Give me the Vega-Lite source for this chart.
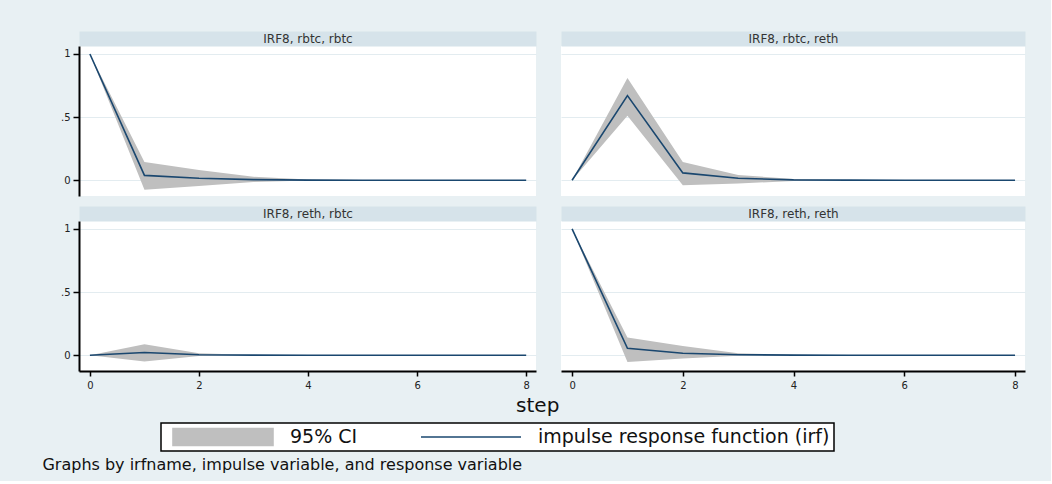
{
  "$schema": "https://vega.github.io/schema/vega-lite/v6.json",
  "background": "#e8f0f3",
  "padding": {"left": 42, "top": 32, "right": 26, "bottom": 8},
  "datasets": {
    "irf": [
      {"p": "rbtc,rbtc", "step": 0, "irf": 1, "lo": 1, "hi": 1},
      {"p": "rbtc,rbtc", "step": 1, "irf": 0.038, "lo": -0.075, "hi": 0.145},
      {"p": "rbtc,rbtc", "step": 2, "irf": 0.015, "lo": -0.045, "hi": 0.08},
      {"p": "rbtc,rbtc", "step": 3, "irf": 0.005, "lo": -0.015, "hi": 0.027},
      {"p": "rbtc,rbtc", "step": 4, "irf": 0.001, "lo": -0.003, "hi": 0.006},
      {"p": "rbtc,rbtc", "step": 5, "irf": 0, "lo": -0.001, "hi": 0.001},
      {"p": "rbtc,rbtc", "step": 6, "irf": 0, "lo": 0, "hi": 0},
      {"p": "rbtc,rbtc", "step": 7, "irf": 0, "lo": 0, "hi": 0},
      {"p": "rbtc,rbtc", "step": 8, "irf": 0, "lo": 0, "hi": 0},
      {"p": "rbtc,reth", "step": 0, "irf": 0, "lo": 0, "hi": 0},
      {"p": "rbtc,reth", "step": 1, "irf": 0.67, "lo": 0.51, "hi": 0.81},
      {"p": "rbtc,reth", "step": 2, "irf": 0.058, "lo": -0.04, "hi": 0.144},
      {"p": "rbtc,reth", "step": 3, "irf": 0.015, "lo": -0.026, "hi": 0.042},
      {"p": "rbtc,reth", "step": 4, "irf": 0.003, "lo": -0.006, "hi": 0.01},
      {"p": "rbtc,reth", "step": 5, "irf": 0.001, "lo": -0.001, "hi": 0.002},
      {"p": "rbtc,reth", "step": 6, "irf": 0, "lo": 0, "hi": 0},
      {"p": "rbtc,reth", "step": 7, "irf": 0, "lo": 0, "hi": 0},
      {"p": "rbtc,reth", "step": 8, "irf": 0, "lo": 0, "hi": 0},
      {"p": "reth,rbtc", "step": 0, "irf": 0, "lo": 0, "hi": 0},
      {"p": "reth,rbtc", "step": 1, "irf": 0.022, "lo": -0.05, "hi": 0.087},
      {"p": "reth,rbtc", "step": 2, "irf": 0.004, "lo": -0.006, "hi": 0.016},
      {"p": "reth,rbtc", "step": 3, "irf": 0.001, "lo": -0.001, "hi": 0.002},
      {"p": "reth,rbtc", "step": 4, "irf": 0, "lo": 0, "hi": 0},
      {"p": "reth,rbtc", "step": 5, "irf": 0, "lo": 0, "hi": 0},
      {"p": "reth,rbtc", "step": 6, "irf": 0, "lo": 0, "hi": 0},
      {"p": "reth,rbtc", "step": 7, "irf": 0, "lo": 0, "hi": 0},
      {"p": "reth,rbtc", "step": 8, "irf": 0, "lo": 0, "hi": 0},
      {"p": "reth,reth", "step": 0, "irf": 1, "lo": 1, "hi": 1},
      {"p": "reth,reth", "step": 1, "irf": 0.055, "lo": -0.053, "hi": 0.14},
      {"p": "reth,reth", "step": 2, "irf": 0.016, "lo": -0.026, "hi": 0.073},
      {"p": "reth,reth", "step": 3, "irf": 0.004, "lo": -0.005, "hi": 0.015},
      {"p": "reth,reth", "step": 4, "irf": 0.001, "lo": -0.001, "hi": 0.003},
      {"p": "reth,reth", "step": 5, "irf": 0, "lo": 0, "hi": 0},
      {"p": "reth,reth", "step": 6, "irf": 0, "lo": 0, "hi": 0},
      {"p": "reth,reth", "step": 7, "irf": 0, "lo": 0, "hi": 0},
      {"p": "reth,reth", "step": 8, "irf": 0, "lo": 0, "hi": 0}
    ]
  },
  "vconcat": [
    {
      "columns": 2,
      "spacing": {"row": 11, "column": 25},
      "title": {"text": "step", "orient": "bottom", "anchor": "middle", "fontSize": 20, "font": "DejaVu Sans", "fontWeight": "normal", "color": "#111", "offset": 6, "dx": -5},
      "resolve": {"scale": {"color": "shared"}, "legend": {"color": "shared"}},
      "concat": [
        {
          "width": 457, "height": 150,
          "data": {"name": "irf"},
          "transform": [{"filter": "datum.p === 'rbtc,rbtc'"}],
          "layer": [
            {
              "mark": {"type": "area", "opacity": 1},
              "encoding": {
                "x": {"field": "step", "type": "quantitative", "scale": {"domain": [-0.2, 8.18], "nice": false, "zero": false},
                  "axis": {"orient": "top", "title": "IRF8, rbtc, rbtc", "offset": 7.5, "domain": true, "domainColor": "#d6e3ea", "domainWidth": 15, "domainCap": "butt", "ticks": false, "labels": false, "grid": false, "titleY": 0, "titleBaseline": "middle", "titleAngle": 0, "titleFontSize": 12, "titleFontWeight": "normal", "titleFont": "DejaVu Sans", "titleColor": "#333"}},
                "y": {"field": "lo", "type": "quantitative", "scale": {"domain": [-0.125, 1.063], "nice": false, "zero": false},
                  "axis": {"values": [0, 0.5, 1], "labelExpr": "datum.value === 0.5 ? '.5' : (datum.value === 1 ? '1' : '0')", "title": null, "domainColor": "#000", "domainWidth": 2, "tickColor": "#000", "tickWidth": 1.5, "tickSize": 6, "labelPadding": 3, "labelFontSize": 10, "labelColor": "#222", "grid": true, "gridColor": "#e3ecf0", "gridWidth": 1}},
                "y2": {"field": "hi"},
                "color": {"datum": "95% CI", "type": "nominal",
                  "scale": {"domain": ["95% CI", "impulse response function (irf)"], "range": ["#bfbfbf", "#1a476f"]},
                  "legend": {
                    "orient": "none", "legendX": 82, "legendY": 377, "direction": "horizontal", "columns": 2, "title": null,
                    "symbolSize": 10000, "clipHeight": 20, "labelFontSize": 19, "labelFont": "DejaVu Sans", "labelColor": "#111", "labelLimit": 1000,
                    "labelOffset": 16, "columnPadding": 55, "padding": 4, "symbolOffset": 7,
                    "symbolType": "M-1,-0.17H1V0.17H-1Z", "symbolStrokeWidth": 1.6,
                    "strokeColor": "#000", "fillColor": "#ffffff",
                    "encoding": {
                      "legend": {"strokeWidth": {"value": 1.5}},
                      "symbols": {
                        "shape": {"condition": {"test": "datum.value === '95% CI'", "value": "M-1,-0.17H1V0.17H-1Z"}, "value": "M-1,0H1"},
                        "fill": {"condition": {"test": "datum.value === '95% CI'", "value": "#bfbfbf"}, "value": "transparent"},
                        "stroke": {"condition": {"test": "datum.value === '95% CI'", "value": "transparent"}, "value": "#1a476f"},
                        "strokeWidth": {"value": 1.6},
                        "opacity": {"value": 1}
                      }
                    }
                  }}
              }
            },
            {
              "mark": {"type": "line", "strokeWidth": 1.6},
              "encoding": {
                "x": {"field": "step", "type": "quantitative", "axis": null},
                "y": {"field": "irf", "type": "quantitative",
                  "axis": {"values": [0, 0.5, 1], "labelExpr": "datum.value === 0.5 ? '.5' : (datum.value === 1 ? '1' : '0')", "title": null, "domainColor": "#000", "domainWidth": 2, "tickColor": "#000", "tickWidth": 1.5, "tickSize": 6, "labelPadding": 3, "labelFontSize": 10, "labelColor": "#222", "grid": true, "gridColor": "#e3ecf0", "gridWidth": 1}},
                "color": {"datum": "impulse response function (irf)", "type": "nominal"}
              }
            }
          ],
          "resolve": {"axis": {"x": "independent"}}
        },
        {
          "width": 464, "height": 150,
          "data": {"name": "irf"},
          "transform": [{"filter": "datum.p === 'rbtc,reth'"}],
          "layer": [
            {
              "mark": {"type": "area", "opacity": 1},
              "encoding": {
                "x": {"field": "step", "type": "quantitative", "scale": {"domain": [-0.2, 8.18], "nice": false, "zero": false},
                  "axis": {"orient": "top", "title": "IRF8, rbtc, reth", "offset": 7.5, "domain": true, "domainColor": "#d6e3ea", "domainWidth": 15, "domainCap": "butt", "ticks": false, "labels": false, "grid": false, "titleY": 0, "titleBaseline": "middle", "titleAngle": 0, "titleFontSize": 12, "titleFontWeight": "normal", "titleFont": "DejaVu Sans", "titleColor": "#333"}},
                "y": {"field": "lo", "type": "quantitative", "scale": {"domain": [-0.125, 1.063], "nice": false, "zero": false},
                  "axis": {"values": [0, 0.5, 1], "title": null, "domain": false, "ticks": false, "labels": false, "grid": true, "gridColor": "#e3ecf0", "gridWidth": 1}},
                "y2": {"field": "hi"},
                "color": {"datum": "95% CI", "type": "nominal"}
              }
            },
            {
              "mark": {"type": "line", "strokeWidth": 1.6},
              "encoding": {
                "x": {"field": "step", "type": "quantitative", "axis": null},
                "y": {"field": "irf", "type": "quantitative",
                  "axis": {"values": [0, 0.5, 1], "title": null, "domain": false, "ticks": false, "labels": false, "grid": true, "gridColor": "#e3ecf0", "gridWidth": 1}},
                "color": {"datum": "impulse response function (irf)", "type": "nominal"}
              }
            }
          ],
          "resolve": {"axis": {"x": "independent"}}
        },
        {
          "width": 457, "height": 150,
          "data": {"name": "irf"},
          "transform": [{"filter": "datum.p === 'reth,rbtc'"}],
          "layer": [
            {
              "mark": {"type": "area", "opacity": 1},
              "encoding": {
                "x": {"field": "step", "type": "quantitative", "scale": {"domain": [-0.2, 8.18], "nice": false, "zero": false},
                  "axis": {"orient": "top", "title": "IRF8, reth, rbtc", "offset": 7.5, "domain": true, "domainColor": "#d6e3ea", "domainWidth": 15, "domainCap": "butt", "ticks": false, "labels": false, "grid": false, "titleY": 0, "titleBaseline": "middle", "titleAngle": 0, "titleFontSize": 12, "titleFontWeight": "normal", "titleFont": "DejaVu Sans", "titleColor": "#333"}},
                "y": {"field": "lo", "type": "quantitative", "scale": {"domain": [-0.125, 1.063], "nice": false, "zero": false},
                  "axis": {"values": [0, 0.5, 1], "labelExpr": "datum.value === 0.5 ? '.5' : (datum.value === 1 ? '1' : '0')", "title": null, "domainColor": "#000", "domainWidth": 2, "tickColor": "#000", "tickWidth": 1.5, "tickSize": 6, "labelPadding": 3, "labelFontSize": 10, "labelColor": "#222", "grid": true, "gridColor": "#e3ecf0", "gridWidth": 1}},
                "y2": {"field": "hi"},
                "color": {"datum": "95% CI", "type": "nominal"}
              }
            },
            {
              "mark": {"type": "line", "strokeWidth": 1.6},
              "encoding": {
                "x": {"field": "step", "type": "quantitative",
                  "axis": {"orient": "bottom", "values": [0, 2, 4, 6, 8], "format": "d", "title": null, "domainColor": "#000", "domainWidth": 2, "tickColor": "#000", "tickWidth": 1.5, "tickSize": 5, "labelPadding": 4, "labelFontSize": 10, "labelColor": "#222", "grid": false}},
                "y": {"field": "irf", "type": "quantitative",
                  "axis": {"values": [0, 0.5, 1], "labelExpr": "datum.value === 0.5 ? '.5' : (datum.value === 1 ? '1' : '0')", "title": null, "domainColor": "#000", "domainWidth": 2, "tickColor": "#000", "tickWidth": 1.5, "tickSize": 6, "labelPadding": 3, "labelFontSize": 10, "labelColor": "#222", "grid": true, "gridColor": "#e3ecf0", "gridWidth": 1}},
                "color": {"datum": "impulse response function (irf)", "type": "nominal"}
              }
            }
          ],
          "resolve": {"axis": {"x": "independent"}}
        },
        {
          "width": 464, "height": 150,
          "data": {"name": "irf"},
          "transform": [{"filter": "datum.p === 'reth,reth'"}],
          "layer": [
            {
              "mark": {"type": "area", "opacity": 1},
              "encoding": {
                "x": {"field": "step", "type": "quantitative", "scale": {"domain": [-0.2, 8.18], "nice": false, "zero": false},
                  "axis": {"orient": "top", "title": "IRF8, reth, reth", "offset": 7.5, "domain": true, "domainColor": "#d6e3ea", "domainWidth": 15, "domainCap": "butt", "ticks": false, "labels": false, "grid": false, "titleY": 0, "titleBaseline": "middle", "titleAngle": 0, "titleFontSize": 12, "titleFontWeight": "normal", "titleFont": "DejaVu Sans", "titleColor": "#333"}},
                "y": {"field": "lo", "type": "quantitative", "scale": {"domain": [-0.125, 1.063], "nice": false, "zero": false},
                  "axis": {"values": [0, 0.5, 1], "title": null, "domain": false, "ticks": false, "labels": false, "grid": true, "gridColor": "#e3ecf0", "gridWidth": 1}},
                "y2": {"field": "hi"},
                "color": {"datum": "95% CI", "type": "nominal"}
              }
            },
            {
              "mark": {"type": "line", "strokeWidth": 1.6},
              "encoding": {
                "x": {"field": "step", "type": "quantitative",
                  "axis": {"orient": "bottom", "values": [0, 2, 4, 6, 8], "format": "d", "title": null, "domainColor": "#000", "domainWidth": 2, "tickColor": "#000", "tickWidth": 1.5, "tickSize": 5, "labelPadding": 4, "labelFontSize": 10, "labelColor": "#222", "grid": false}},
                "y": {"field": "irf", "type": "quantitative",
                  "axis": {"values": [0, 0.5, 1], "title": null, "domain": false, "ticks": false, "labels": false, "grid": true, "gridColor": "#e3ecf0", "gridWidth": 1}},
                "color": {"datum": "impulse response function (irf)", "type": "nominal"}
              }
            }
          ],
          "resolve": {"axis": {"x": "independent"}}
        }
      ]
    }
  ],
  "resolve": {"scale": {"color": "shared"}, "legend": {"color": "shared"}},
  "title": {"text": "Graphs by irfname, impulse variable, and response variable", "orient": "bottom", "anchor": "start", "fontSize": 16, "font": "DejaVu Sans", "fontWeight": "normal", "color": "#111", "offset": 5, "dx": -18},
  "config": {
    "view": {"stroke": null, "fill": "#ffffff"},
    "font": "DejaVu Sans",
    "axis": {"labelFont": "DejaVu Sans"}
  }
}
